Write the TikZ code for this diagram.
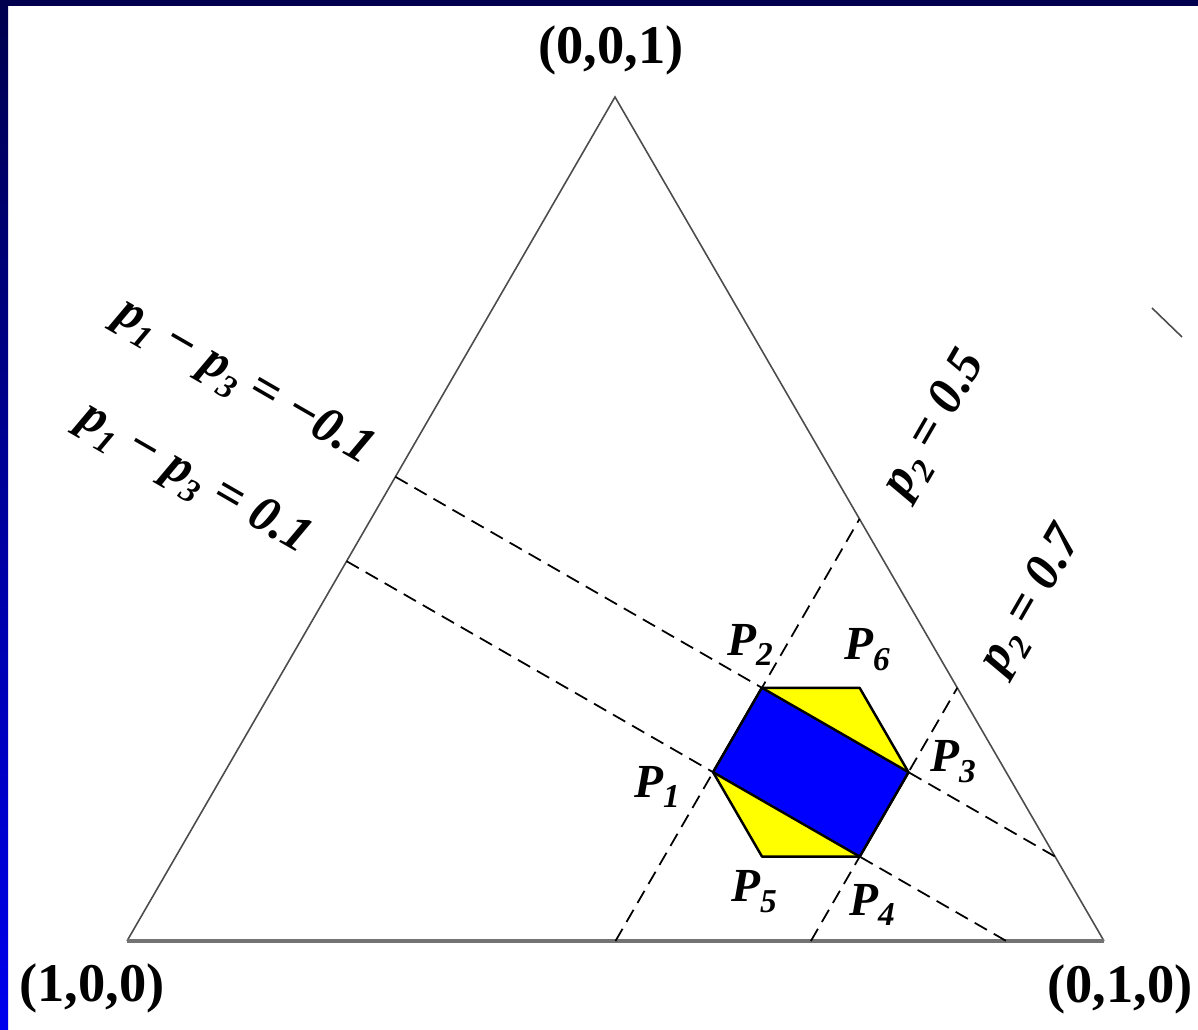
\documentclass[tikz,border=0pt]{standalone}
\usepackage{fontspec}
\setmainfont{Liberation Serif}
\usetikzlibrary{calc}
\definecolor{framenavy}{HTML}{00004E}
\definecolor{frameblue}{HTML}{0000EE}
\definecolor{hexyellow}{HTML}{FFFF00}
\definecolor{rectblue}{HTML}{0000FF}
\newcommand{\ix}[1]{\raisebox{-0.5ex}{\fontsize{19}{19}\selectfont #1}}
\tikzset{
	vertexlabel/.style={font=\fontsize{31}{33}\selectfont\bfseries, inner sep=0pt},
	ptlabel/.style={font=\fontsize{27}{29}\selectfont\bfseries\itshape, inner sep=0pt},
	linelabel/.style={font=\fontsize{29}{31}\selectfont\bfseries\itshape, inner sep=0pt, rotate=#1},
	sideline/.style={draw=black!70, line width=0.9pt},
	constline/.style={draw=black, line width=1pt, dash pattern=on 8pt off 4.5pt},
	regionbox/.style={fill=#1, draw=black, line width=1.4pt, line join=round},
}

\begin{document}
\begin{tikzpicture}[x=0.02cm, y=-0.02cm]
	\useasboundingbox (0,0) rectangle (1198,1030);
	% frame
	\fill[white] (0,0) rectangle (1198,1030);
	\fill[framenavy] (0,0) rectangle (1198,6);
	\shade[top color=framenavy, bottom color=frameblue] (0,0) rectangle (8,1030);
	% simplex
	\coordinate (A) at (127,941);
	\coordinate (B) at (1104,941);
	\coordinate (C) at (615,97);
	\draw[sideline] (B) -- (C) -- (A);
	\draw[draw=black!55, line width=1.8pt] (A) -- (B);
	\node[vertexlabel] (la) at (92,988) {(1,0,0)};
	\node[vertexlabel] (lb) at (1120,989) {(0,1,0)};
	\node[vertexlabel] (lc) at (611,50) {(0,0,1)};
	% constraint lines
	\coordinate (u1) at (barycentric cs:A=0.5,B=0.5,C=0);
	\coordinate (u2) at (barycentric cs:A=0,B=0.5,C=0.5);
	\coordinate (v1) at (barycentric cs:A=0.3,B=0.7,C=0);
	\coordinate (v2) at (barycentric cs:A=0,B=0.7,C=0.3);
	\coordinate (w1) at (barycentric cs:A=0.45,B=0,C=0.55);
	\coordinate (w2) at (barycentric cs:A=0,B=0.9,C=0.1);
	\coordinate (z1) at (barycentric cs:A=0.55,B=0,C=0.45);
	\coordinate (z2) at (barycentric cs:A=0.1,B=0.9,C=0);
	\draw[constline] (u1) -- (u2);
	\draw[constline] (v1) -- (v2);
	\draw[constline] (w1) -- (w2);
	\draw[constline] (z1) -- (z2);
	\node[linelabel=-30] (lw) at (244,383) {p\ix{1} − p\ix{3} = −0.1};
	\node[linelabel=-30] (lz) at (194,480) {p\ix{1} − p\ix{3} = 0.1};
	\node[linelabel=60] (lu) at (936,425) {p\ix{2} = 0.5};
	\node[linelabel=60] (lv) at (1033,601) {p\ix{2} = 0.7};
	% feasible region
	\coordinate (P1) at (barycentric cs:A=0.3,B=0.5,C=0.2);
	\coordinate (P2) at (barycentric cs:A=0.2,B=0.5,C=0.3);
	\coordinate (P3) at (barycentric cs:A=0.1,B=0.7,C=0.2);
	\coordinate (P4) at (barycentric cs:A=0.2,B=0.7,C=0.1);
	\coordinate (P5) at (barycentric cs:A=0.3,B=0.6,C=0.1);
	\coordinate (P6) at (barycentric cs:A=0.1,B=0.6,C=0.3);
	\filldraw[regionbox=hexyellow] (P1) -- (P2) -- (P6) -- (P3) -- (P4) -- (P5) -- cycle;
	\filldraw[regionbox=rectblue] (P1) -- (P2) -- (P3) -- (P4) -- cycle;
	\node[ptlabel] (l1) at (657,787) {P\ix{1}};
	\node[ptlabel] (l2) at (750,645) {P\ix{2}};
	\node[ptlabel] (l3) at (953,762) {P\ix{3}};
	\node[ptlabel] (l4) at (872,905) {P\ix{4}};
	\node[ptlabel] (l5) at (754,892) {P\ix{5}};
	\node[ptlabel] (l6) at (867,650) {P\ix{6}};
	% stray mark
	\coordinate (m1) at (1152,308);
	\coordinate (m2) at (1182,337);
	\draw[sideline] (m1) -- (m2);
\end{tikzpicture}
\end{document}
